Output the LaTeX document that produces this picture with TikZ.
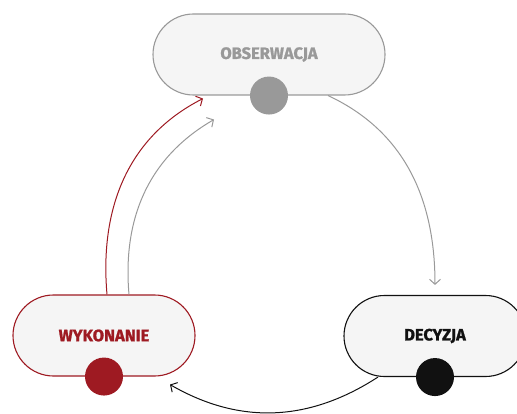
\documentclass[tikz,border=0pt]{standalone}
\usepackage{fontspec}
\setmainfont{Fira Sans}
\newfontfamily\stagefont{Fira Sans Bold}[FakeBold=1.2]
\usetikzlibrary{arrows.meta,positioning}
\definecolor{obsgray}{HTML}{999999}
\definecolor{wykred}{HTML}{9E1A22}
\definecolor{decblack}{HTML}{111111}
\definecolor{boxfill}{HTML}{F5F5F5}
\tikzset{
  stage/.style={draw=#1, text=#1, fill=boxfill, line width=1.1pt,
    rounded corners=40.5pt, minimum height=81pt, minimum width=232pt,
    font=\stagefont\fontsize{16.5}{16.5}\selectfont},
  dot/.style={circle, fill=#1, minimum size=38pt, inner sep=0pt},
  flow/.style={draw=#1, line width=1pt, -{Straight Barb[length=5pt,width=11pt]}}
}
\begin{document}
\begin{tikzpicture}[x=1pt,y=1pt]
  \clip (0,0) rectangle (517,413);
  \useasboundingbox (0,0) rectangle (517,413);
      \node[stage=obsgray] (obs) at (269,358.5) {OBSERWACJA};
      \node[stage=wykred, minimum width=182pt] (wyk) at (104,77.5) {WYKONANIE};
      \node[stage=decblack, minimum width=182pt] (dec) at (435,77) {DECYZJA};
      \node[dot=obsgray] (obsdot) at (obs.south) {};
      \node[dot=wykred] (wykdot) at (wyk.south) {};
      \node[dot=decblack] (decdot) at (dec.south) {};
      % connector ends
      \coordinate (obsout) at ([xshift=59pt]obs.south);
      \coordinate (decin) at ([yshift=10pt]dec.north);
      \coordinate (decout) at ([xshift=-57pt]dec.south);
      \coordinate (wykin) at ([xshift=66pt,yshift=-8pt]wyk.south);
      \coordinate (wykred) at ([xshift=3pt]wyk.north);
      \coordinate (obsred) at ([xshift=-66pt,yshift=-3pt]obs.south);
      \coordinate (wykgray) at ([xshift=25pt]wyk.north);
      \coordinate (obsgrayin) at ([xshift=-55pt,yshift=-24pt]obs.south);
      \begin{scope}
        \draw[flow=obsgray] (obsout) to[out=-25,in=90] (decin);
        \draw[flow=decblack] (decout) to[out=-147,in=-30] (wykin);
        \draw[flow=wykred] (wykred) to[out=95,in=207] (obsred);
        \draw[flow=obsgray] (wykgray) to[out=95,in=210] (obsgrayin);
      \end{scope}
    \end{tikzpicture}
\end{document}
